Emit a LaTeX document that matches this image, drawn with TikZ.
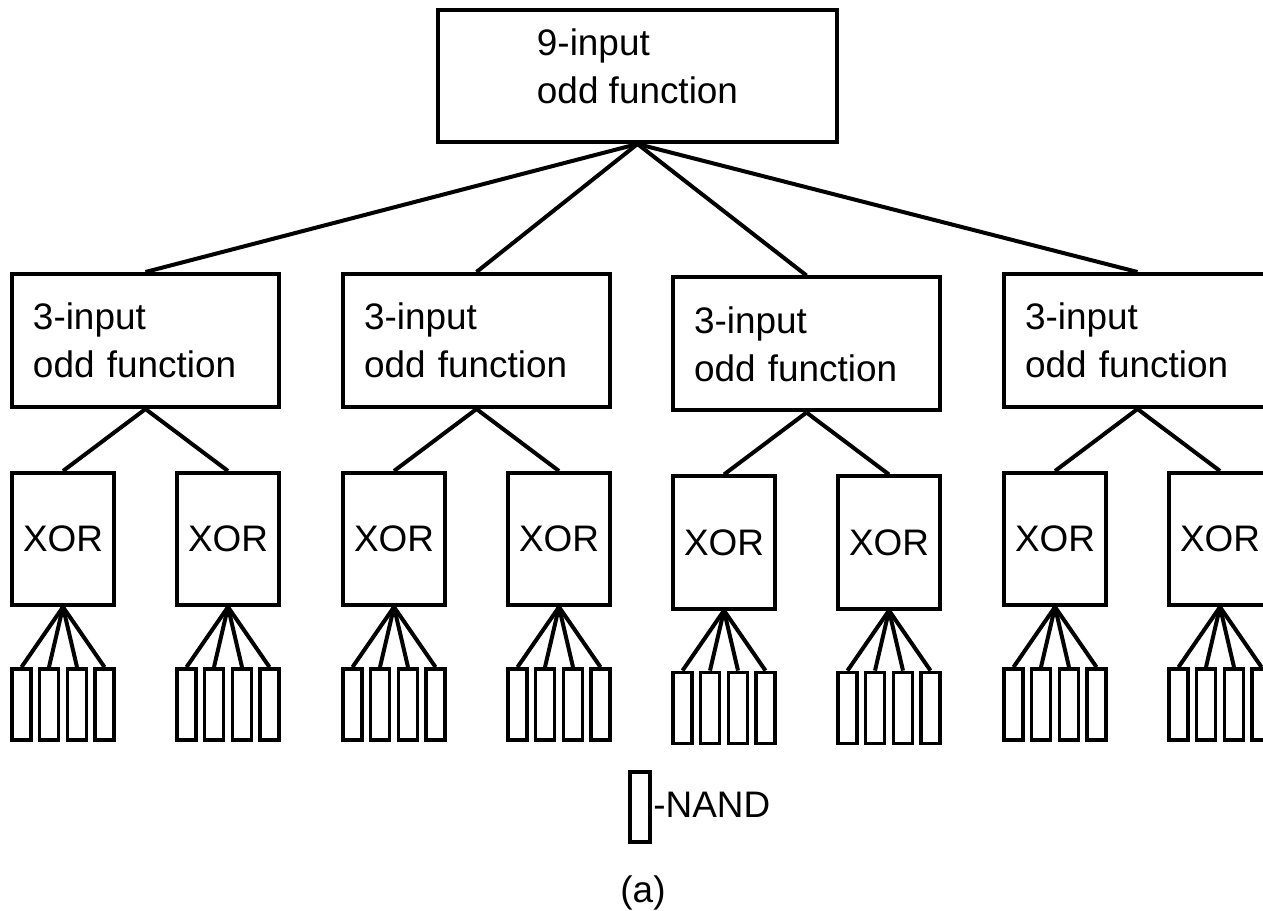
\documentclass[tikz,border=0pt]{standalone}
\usepackage{fontspec}
\setmainfont{Liberation Sans}
\usepackage{tikz}
\usetikzlibrary{positioning}

\tikzset{
  gatebox/.style={draw, line width=0.8mm, rectangle, inner sep=0pt,
    font=\fontsize{21pt}{27.3pt}\selectfont},
  oddbox/.style={gatebox, minimum width=53.4mm, minimum height=26.6mm,
    text width=45mm, align=left},
  xorbox/.style={gatebox, minimum width=20.4mm, minimum height=26.4mm},
  nandbox/.style={draw, line width=0.75mm, rectangle, inner sep=0pt,
    minimum width=3.8mm, minimum height=14.2mm},
  wire/.style={line width=0.8mm}
}

\begin{document}
\begin{tikzpicture}[x=0.2mm, y=-0.2mm]

\useasboundingbox (0,0) rectangle (1263,911);
\clip (0,0) rectangle (1263,911);

% 9-input odd function (raiz)
\node[gatebox, minimum width=79.8mm, minimum height=26.4mm, align=left, text depth=4mm] (NineOdd) at (637.5,76) {9-input\\odd function};

% 3-input odd functions
\node[oddbox] (ThreeOddA) at (145.5,340.5) {3-input\\odd function};
\node[oddbox] (ThreeOddB) at (476.5,340.5) {3-input\\odd function};
\node[oddbox] (ThreeOddC) at (806.5,344) {3-input\\odd function};
\node[oddbox] (ThreeOddD) at (1137.5,340.5) {3-input\\odd function};

% XOR gates
\node[xorbox] (XorA1) at (63,539) {XOR};
\node[xorbox] (XorA2) at (228,539) {XOR};
\node[xorbox] (XorB1) at (394,539) {XOR};
\node[xorbox] (XorB2) at (559,539) {XOR};
\node[xorbox] (XorC1) at (724,542.5) {XOR};
\node[xorbox] (XorC2) at (889,542.5) {XOR};
\node[xorbox] (XorD1) at (1055,539) {XOR};
\node[xorbox] (XorD2) at (1220,539) {XOR};

% Ligacoes
\draw[wire] (NineOdd.south) -- (ThreeOddA.north);
\draw[wire] (NineOdd.south) -- (ThreeOddB.north);
\draw[wire] (NineOdd.south) -- (ThreeOddC.north);
\draw[wire] (NineOdd.south) -- (ThreeOddD.north);
\draw[wire] (ThreeOddA.south) -- (XorA1.north);
\draw[wire] (ThreeOddA.south) -- (XorA2.north);
\draw[wire] (ThreeOddB.south) -- (XorB1.north);
\draw[wire] (ThreeOddB.south) -- (XorB2.north);
\draw[wire] (ThreeOddC.south) -- (XorC1.north);
\draw[wire] (ThreeOddC.south) -- (XorC2.north);
\draw[wire] (ThreeOddD.south) -- (XorD1.north);
\draw[wire] (ThreeOddD.south) -- (XorD2.north);

% NAND gates
\foreach \xl/\yc/\gate in {12/704.5/XorA1, 177/704.5/XorA2, 343/704.5/XorB1, 508/704.5/XorB2,
    673/708/XorC1, 838/708/XorC2, 1004/704.5/XorD1, 1169/704.5/XorD2} {
  \foreach \i/\dx in {1/9.5, 2/37, 3/65, 4/92.5} {
    \node[nandbox] (Nand\gate\i) at (\xl+\dx,\yc) {};
    \draw[wire] (\gate.south) -- (Nand\gate\i.north);
  }
}

% Legenda
\node[nandbox, minimum width=4mm, minimum height=14mm] (NandKey) at (640,807) {};
\node[anchor=base west, inner sep=0pt, font=\fontsize{21pt}{27.3pt}\selectfont] (NandText) at (653,817) {-NAND};
\node[anchor=base, inner sep=0pt, font=\fontsize{21pt}{27.3pt}\selectfont] (Caption) at (643,902) {(a)};

\end{tikzpicture}
\end{document}
